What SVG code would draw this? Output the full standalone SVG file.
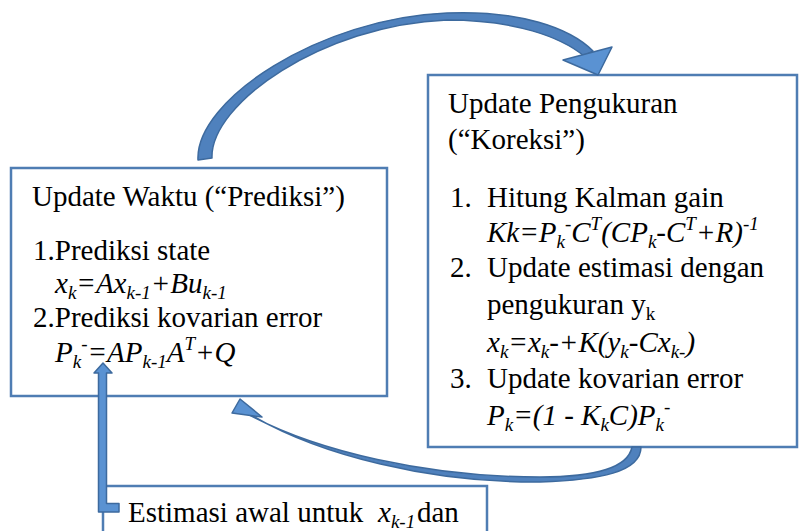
<svg xmlns="http://www.w3.org/2000/svg" width="802" height="531" viewBox="0 0 802 531">
<style>
.box{fill:#fff;stroke:#4F7DB3;stroke-width:2.5}
.t{font-family:"Liberation Serif","Times New Roman",serif;font-size:29px;fill:#000}
.i{font-style:italic}
.sub{font-size:19px;baseline-shift:-6px}
.sup{font-size:19px;baseline-shift:12px}
.arr{fill:#4F81BD;stroke:#3D6A9E;stroke-width:1.5;stroke-linejoin:round}
.head{fill:#5A92D2;stroke:#3D6A9E;stroke-width:1.5;stroke-linejoin:round}
</style>
<rect width="802" height="531" fill="#fff"/>
<g id="prediksi">
<rect class="box" x="11" y="168" width="376" height="228"/>
<text class="t" x="32" y="206">Update Waktu (“Prediksi”)</text>
<text class="t" x="33" y="260">1.Prediksi state</text>
<text class="t i" x="55" y="293">x<tspan class="sub">k</tspan>=Ax<tspan class="sub">k-1</tspan>+Bu<tspan class="sub">k-1</tspan></text>
<text class="t" x="33" y="327">2.Prediksi kovarian error</text>
<text class="t i" x="55" y="362">P<tspan class="sub">k</tspan><tspan class="sup">-</tspan>=AP<tspan class="sub">k-1</tspan>A<tspan class="sup">T</tspan>+Q</text>
</g>
<g id="koreksi">
<rect class="box" x="428" y="75" width="369" height="372"/>
<text class="t" x="448" y="113">Update Pengukuran</text>
<text class="t" x="448" y="149">(“Koreksi”)</text>
<text class="t" x="450" y="207">1.</text>
<text class="t" x="487" y="207">Hitung Kalman gain</text>
<text class="t i" x="487" y="242">Kk=P<tspan class="sub">k</tspan><tspan class="sup">-</tspan>C<tspan class="sup">T</tspan>(CP<tspan class="sub">k</tspan>-C<tspan class="sup">T</tspan>+R)<tspan class="sup">-1</tspan></text>
<text class="t" x="450" y="277">2.</text>
<text class="t" x="487" y="277">Update estimasi dengan</text>
<text class="t" x="487" y="314">pengukuran y<tspan class="sub">k</tspan></text>
<text class="t i" x="487" y="352">x<tspan class="sub">k</tspan>=x<tspan class="sub">k</tspan>-+K(y<tspan class="sub">k</tspan>-Cx<tspan class="sub">k-</tspan>)</text>
<text class="t" x="450" y="388">3.</text>
<text class="t" x="487" y="388">Update kovarian error</text>
<text class="t i" x="487" y="425">P<tspan class="sub">k</tspan>=(1 - K<tspan class="sub">k</tspan>C)P<tspan class="sub">k</tspan><tspan class="sup">-</tspan></text>
</g>
<g id="estimasi">
<rect class="box" x="103" y="486" width="384" height="80"/>
<text class="t" x="128" y="522">Estimasi awal untuk</text>
<text class="t i" x="378" y="522">x<tspan class="sub">k-1</tspan></text>
<text class="t" x="417" y="522">dan</text>
</g>
<g id="connectors">
<path class="arr" d="M198,160 C195,100 320,18 447,13 C520,10 570,28 593,51 L584,56 C561,37 515,20 447,20 C322,25 210,104 212,158 Z"/>
<path class="head" d="M563,60 L612,47 L598,75 Z"/>
<path class="arr" d="M641,447 C641,472 600,480 540,482 C430,483 320,455 253,416 L244,412 C315,452 430,477 540,477 C595,477 628,468 632,447 Z"/>
<path class="head" d="M240,399 L262,417 L232,413 Z"/>
<path class="head" d="M103,363 L112,373 L106.5,373 L106.5,503.5 L119,503.5 L119,512 L98.5,512 L98.5,373 L94,373 Z"/>
</g>
</svg>
